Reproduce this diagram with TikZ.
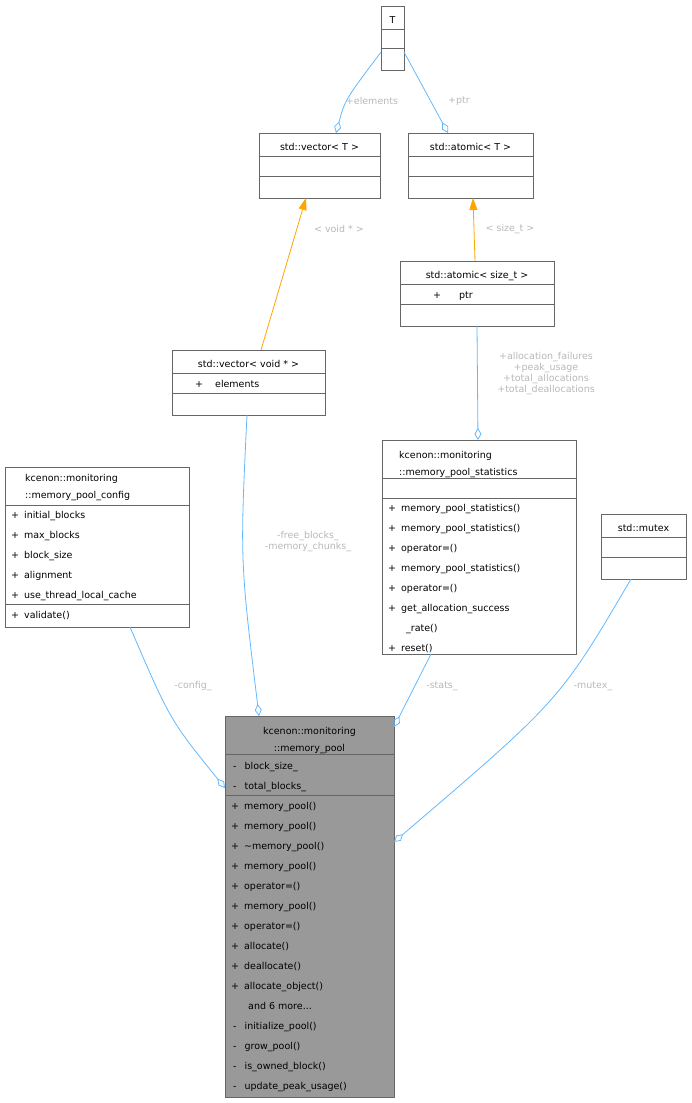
\documentclass[tikz,border=0pt]{standalone}
\usepackage{fontspec}
\setmainfont{DejaVu Sans}
\usetikzlibrary{arrows.meta,calc}
\definecolor{edgeblue}{HTML}{63B8FF}
\definecolor{edgeorange}{HTML}{FFA500}
\definecolor{lblgray}{HTML}{B8B8B8}
\definecolor{boxline}{HTML}{666666}
\tikzset{
  box/.style={draw=boxline, line width=0.9pt, inner sep=0pt, anchor=north west},
  txt/.style={inner sep=0pt, anchor=base west, font=\fontsize{9.5}{12}\selectfont},
  ctxt/.style={inner sep=0pt, anchor=base, font=\fontsize{9.5}{12}\selectfont},
  lbl/.style={inner sep=0pt, text=lblgray, align=center, font=\fontsize{9.5}{11}\selectfont},
  member/.style={draw=edgeblue, line width=0.8pt, {Diamond[open,length=12pt,width=7pt]}-},
  inherit/.style={draw=edgeorange, line width=0.8pt, -{Triangle[length=12pt,width=8pt]}}
}
\newcommand{\sepline}[3]{\draw[boxline, line width=0.9pt] (#1,#3) -- (#2,#3);}
\begin{document}
\begin{tikzpicture}[x=1pt,y=-1pt]
\useasboundingbox (0,0) rectangle (691,1103);
% class boxes
\node[box, minimum width=23pt, minimum height=64pt] (T) at (381,6) {};
\sepline{381}{404}{29}\sepline{381}{404}{48}
\node[ctxt] at (392.5,23) {T};

\node[box, minimum width=121pt, minimum height=65pt] (vecT) at (259,133) {};
\sepline{259}{380}{156}\sepline{259}{380}{176}
\node[ctxt] at (319.5,150) {std::vector< T >};

\node[box, minimum width=125pt, minimum height=65pt] (atomT) at (408,133) {};
\sepline{408}{533}{156}\sepline{408}{533}{176}
\node[ctxt] at (470.5,150) {std::atomic< T >};

\node[box, minimum width=154pt, minimum height=65pt] (atomS) at (400,261) {};
\sepline{400}{554}{284}\sepline{400}{554}{304}
\node[ctxt] at (477,278) {std::atomic< size\_t >};
\node[txt] at (433,298) {+\hspace{18pt}ptr};

\node[box, minimum width=153pt, minimum height=65pt] (vecV) at (172,350) {};
\sepline{172}{325}{373}\sepline{172}{325}{393}
\node[ctxt] at (248.5,367) {std::vector< void * >};
\node[txt] at (195,387) {+\hspace{12pt}elements};

\node[box, minimum width=184pt, minimum height=160pt] (config) at (5,467) {};
\sepline{5}{189}{505}\sepline{5}{189}{604}
\node[txt] at (25,481) {kcenon::monitoring};
\node[txt] at (25,498) {::memory\_pool\_config};
\foreach \t [count=\i] in {initial\_blocks, max\_blocks, block\_size, alignment, use\_thread\_local\_cache}
  \node[txt] at (11,498+20*\i) {+\hspace{5pt}\t};
\node[txt] at (11,618) {+\hspace{5pt}validate()};

\node[box, minimum width=194pt, minimum height=214pt] (stats) at (382,440) {};
\sepline{382}{576}{478}\sepline{382}{576}{498}
\node[txt] at (399,458) {kcenon::monitoring};
\node[txt] at (399,475) {::memory\_pool\_statistics};
\foreach \t [count=\i] in {memory\_pool\_statistics(), memory\_pool\_statistics(), operator=(), memory\_pool\_statistics(), operator=(), get\_allocation\_success}
  \node[txt] at (388,491+20*\i) {+\hspace{5pt}\t};
\node[txt] at (406,631) {\_rate()};
\node[txt] at (388,651) {+\hspace{5pt}reset()};

\node[box, minimum width=85pt, minimum height=65pt] (mutex) at (601,514) {};
\sepline{601}{686}{537}\sepline{601}{686}{557}
\node[ctxt] at (643.5,531) {std::mutex};

\node[box, fill=black!40, minimum width=169pt, minimum height=381pt] (pool) at (225,716) {};
\sepline{225}{394}{754}\sepline{225}{394}{795}
\node[ctxt] at (309.5,734) {kcenon::monitoring};
\node[ctxt] at (309.5,751) {::memory\_pool};
\node[txt] at (233,769) {-\hspace{8pt}block\_size\_};
\node[txt] at (233,789) {-\hspace{8pt}total\_blocks\_};
\foreach \t [count=\i] in {memory\_pool(), memory\_pool(), \char`\~memory\_pool(), memory\_pool(), operator=(), memory\_pool(), operator=(), allocate(), deallocate(), allocate\_object()}
  \node[txt] at (231,789+20*\i) {+\hspace{5pt}\t};
\node[txt] at (248,1009) {and 6 more...};
\foreach \t [count=\i] in {initialize\_pool(), grow\_pool(), is\_owned\_block(), update\_peak\_usage()}
  \node[txt] at (233,1009+20*\i) {-\hspace{8pt}\t};

% connector end points
\coordinate (TL) at (381,52);
\coordinate (TR) at (404,52);
\coordinate (vecTtop) at (336,133);
\coordinate (atomTtop) at (448,133);
\coordinate (vecTbot) at (306,198);
\coordinate (atomTbot) at (473,198);
\coordinate (atomStop) at (475,261);
\coordinate (atomSbot) at (477,326);
\coordinate (statstop) at (478,440);
\coordinate (statsbot) at (431,654);
\coordinate (vecVtop) at (261,350);
\coordinate (vecVbot) at (247,415);
\coordinate (configbot) at (130,627);
\coordinate (mutexbot) at (631,579);
\coordinate (pooltop) at (259,716);
\coordinate (poolleft) at (225,788);
\coordinate (poolstats) at (394,727);
\coordinate (poolright) at (394,842);

% connectors
\draw[member] (vecTtop) .. controls (345,100) .. (TL);
\draw[member] (atomTtop) -- (TR);
\draw[inherit] (vecVtop) -- (vecTbot);
\draw[inherit] (atomStop) -- (atomTbot);
\draw[member] (statstop) -- (atomSbot);
\draw[member] (pooltop) .. controls (240,560) .. (vecVbot);
\draw[member] (poolleft) .. controls (170,720) .. (configbot);
\draw[member] (poolstats) -- (statsbot);
\draw[member] (poolright) .. controls (560,700) .. (mutexbot);

% labels
\node[lbl] at (372,101) {+elements};
\node[lbl] at (459,101) {+ptr};
\node[lbl] at (339,229) {< void * >};
\node[lbl] at (510,229) {< size\_t >};
\node[lbl, anchor=north] at (546,352) {+allocation\_failures\\+peak\_usage\\+total\_allocations\\+total\_deallocations};
\node[lbl, anchor=north] at (308,531) {-free\_blocks\_\\-memory\_chunks\_};
\node[lbl] at (193,686) {-config\_};
\node[lbl] at (442,686) {-stats\_};
\node[lbl] at (593,686) {-mutex\_};
\end{tikzpicture}
\end{document}
